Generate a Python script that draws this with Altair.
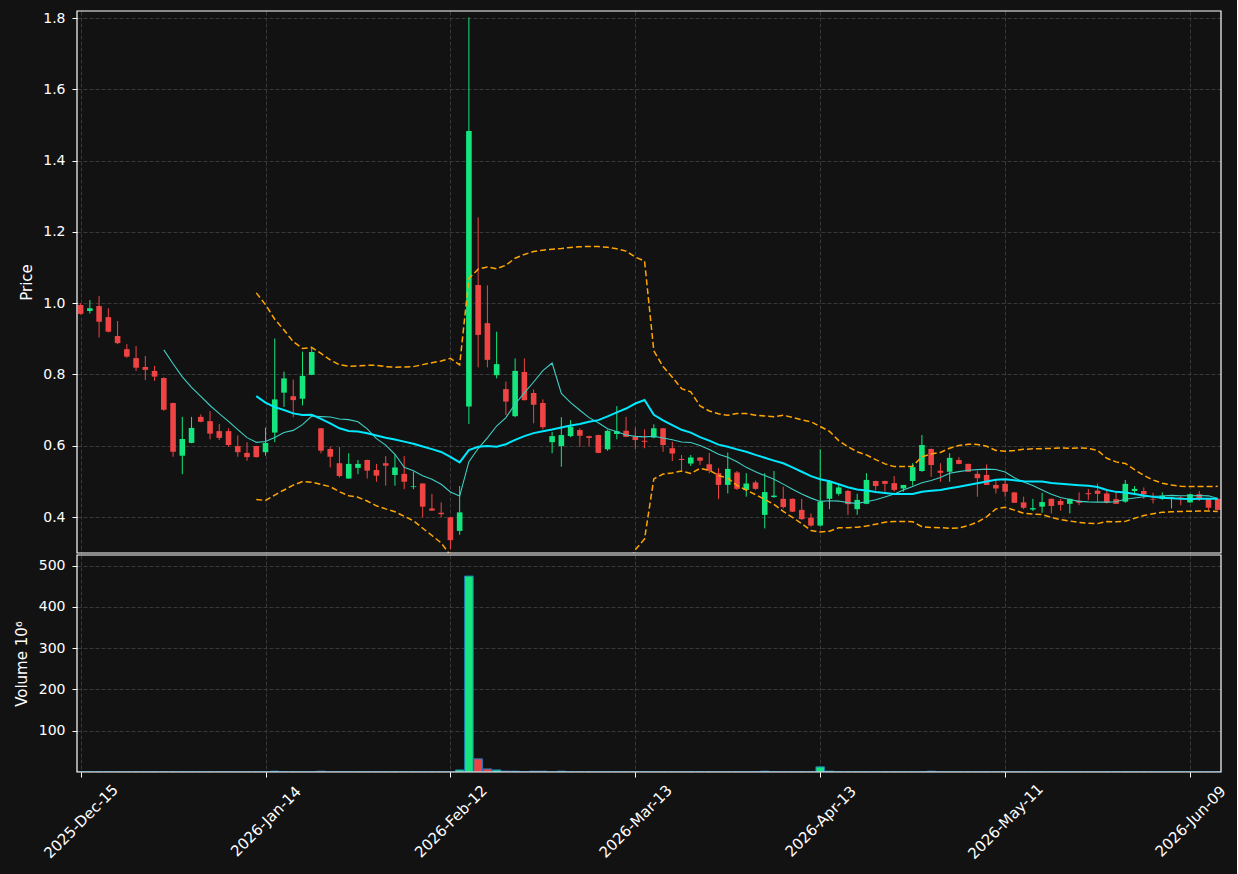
import json
import altair as alt
import pandas as pd

# ---------------- data ----------------
OPEN = [0.995, 0.978, 0.992, 0.961, 0.908, 0.871, 0.846, 0.821, 0.810, 0.790,
        0.720, 0.572, 0.608, 0.681, 0.669, 0.641, 0.641, 0.599, 0.580, 0.599,
        0.582, 0.637, 0.749, 0.739, 0.732, 0.799, 0.649, 0.591, 0.551, 0.508,
        0.538, 0.560, 0.532, 0.551, 0.518, 0.521, 0.484, 0.494, 0.424, 0.412,
        0.399, 0.361, 0.710, 1.051, 0.944, 0.798, 0.759, 0.683, 0.807, 0.748,
        0.720, 0.610, 0.599, 0.627, 0.644, 0.627, 0.630, 0.590, 0.633, 0.642,
        0.625, 0.614, 0.623, 0.649, 0.593, 0.563, 0.550, 0.567, 0.548, 0.523,
        0.490, 0.525, 0.476, 0.497, 0.406, 0.456, 0.451, 0.451, 0.420, 0.398,
        0.376, 0.451, 0.465, 0.473, 0.422, 0.437, 0.501, 0.501, 0.495, 0.480,
        0.501, 0.529, 0.591, 0.530, 0.527, 0.560, 0.549, 0.521, 0.518, 0.490,
        0.493, 0.469, 0.441, 0.421, 0.429, 0.451, 0.445, 0.437, 0.446, 0.467,
        0.474, 0.466, 0.450, 0.443, 0.473, 0.473, 0.451, 0.451, 0.454, 0.455,
        0.441, 0.464, 0.451, 0.451]
HIGH = [1.000, 1.009, 1.020, 0.986, 0.950, 0.885, 0.880, 0.852, 0.824, 0.792,
        0.721, 0.681, 0.681, 0.688, 0.697, 0.661, 0.649, 0.629, 0.610, 0.600,
        0.651, 0.901, 0.808, 0.786, 0.864, 0.878, 0.650, 0.597, 0.596, 0.579,
        0.560, 0.561, 0.549, 0.571, 0.576, 0.571, 0.527, 0.495, 0.465, 0.441,
        0.400, 0.487, 1.802, 1.241, 1.050, 0.920, 0.780, 0.845, 0.845, 0.758,
        0.730, 0.639, 0.680, 0.672, 0.649, 0.628, 0.631, 0.645, 0.711, 0.681,
        0.651, 0.646, 0.660, 0.650, 0.611, 0.574, 0.574, 0.568, 0.580, 0.537,
        0.581, 0.529, 0.523, 0.502, 0.523, 0.529, 0.485, 0.452, 0.451, 0.410,
        0.590, 0.504, 0.490, 0.476, 0.465, 0.523, 0.502, 0.502, 0.515, 0.490,
        0.551, 0.630, 0.592, 0.551, 0.579, 0.568, 0.550, 0.529, 0.548, 0.504,
        0.504, 0.470, 0.457, 0.451, 0.468, 0.452, 0.451, 0.452, 0.469, 0.479,
        0.494, 0.476, 0.471, 0.504, 0.487, 0.483, 0.468, 0.469, 0.456, 0.459,
        0.465, 0.473, 0.452, 0.452]
LOW = [0.968, 0.971, 0.904, 0.918, 0.885, 0.847, 0.810, 0.784, 0.782, 0.698,
       0.569, 0.520, 0.607, 0.666, 0.618, 0.616, 0.597, 0.569, 0.558, 0.567,
       0.572, 0.610, 0.709, 0.680, 0.713, 0.798, 0.579, 0.539, 0.511, 0.507,
       0.520, 0.508, 0.499, 0.488, 0.488, 0.478, 0.478, 0.399, 0.417, 0.399,
       0.309, 0.350, 0.661, 0.820, 0.820, 0.789, 0.686, 0.680, 0.727, 0.663,
       0.646, 0.579, 0.541, 0.624, 0.597, 0.599, 0.579, 0.586, 0.618, 0.624,
       0.590, 0.593, 0.621, 0.583, 0.557, 0.532, 0.543, 0.546, 0.523, 0.450,
       0.466, 0.476, 0.457, 0.476, 0.368, 0.454, 0.424, 0.414, 0.392, 0.373,
       0.373, 0.422, 0.460, 0.406, 0.406, 0.436, 0.474, 0.471, 0.471, 0.471,
       0.488, 0.527, 0.513, 0.499, 0.499, 0.548, 0.527, 0.457, 0.490, 0.466,
       0.457, 0.440, 0.422, 0.417, 0.412, 0.410, 0.418, 0.410, 0.433, 0.448,
       0.443, 0.438, 0.437, 0.440, 0.462, 0.451, 0.438, 0.448, 0.424, 0.433,
       0.440, 0.445, 0.420, 0.419]
CLOSE = [0.970, 0.986, 0.948, 0.920, 0.888, 0.850, 0.819, 0.813, 0.794, 0.701,
         0.583, 0.619, 0.650, 0.667, 0.634, 0.622, 0.602, 0.582, 0.568, 0.568,
         0.608, 0.730, 0.789, 0.728, 0.796, 0.863, 0.586, 0.569, 0.515, 0.549,
         0.549, 0.530, 0.516, 0.544, 0.539, 0.499, 0.486, 0.429, 0.418, 0.408,
         0.335, 0.413, 1.483, 0.911, 0.841, 0.829, 0.724, 0.810, 0.728, 0.715,
         0.652, 0.627, 0.630, 0.653, 0.628, 0.622, 0.580, 0.642, 0.641, 0.625,
         0.616, 0.611, 0.649, 0.602, 0.578, 0.560, 0.567, 0.558, 0.530, 0.490,
         0.535, 0.479, 0.494, 0.479, 0.470, 0.460, 0.428, 0.415, 0.394, 0.376,
         0.443, 0.499, 0.483, 0.436, 0.448, 0.504, 0.487, 0.493, 0.476, 0.490,
         0.540, 0.602, 0.546, 0.524, 0.566, 0.549, 0.527, 0.509, 0.490, 0.480,
         0.471, 0.440, 0.426, 0.425, 0.442, 0.431, 0.434, 0.451, 0.440, 0.464,
         0.465, 0.440, 0.437, 0.493, 0.479, 0.464, 0.449, 0.460, 0.456, 0.453,
         0.464, 0.450, 0.426, 0.420]
# volume in millions
VOLUME = [0.3, 0.3, 0.3, 0.3, 0.3, 0.3, 0.3, 0.3, 0.3, 0.3,
          0.3, 0.3, 0.3, 0.3, 0.3, 0.3, 0.3, 0.3, 0.3, 0.3,
          0.3, 2.0, 0.3, 0.3, 0.3, 0.3, 2.0, 0.3, 0.3, 0.3,
          0.3, 0.3, 0.3, 0.3, 0.3, 0.3, 0.3, 0.3, 0.3, 0.3,
          0.3, 5.0, 475.0, 32.0, 7.5, 5.0, 2.2, 2.0, 0.3, 2.0,
          2.0, 0.3, 2.0, 0.3, 0.3, 0.3, 0.3, 0.3, 0.3, 0.3,
          0.3, 0.3, 0.3, 0.3, 0.3, 0.3, 0.3, 0.3, 0.3, 0.3,
          0.3, 0.3, 0.3, 0.3, 2.0, 0.3, 0.3, 0.3, 0.3, 0.3,
          12.5, 2.0, 0.3, 0.3, 0.3, 0.3, 0.3, 0.3, 0.3, 0.3,
          0.3, 0.3, 2.0, 0.3, 0.3, 0.3, 0.3, 0.3, 0.3, 0.3,
          0.3, 0.3, 0.3, 0.3, 0.3, 0.3, 0.3, 0.3, 0.3, 0.3,
          0.3, 0.3, 0.3, 0.3, 0.3, 0.3, 0.3, 0.3, 0.3, 0.3,
          0.3, 0.3, 0.3, 0.3]

TICK_POS = [0, 20, 40, 60, 80, 100, 120]
TICK_LABELS = ["2025-Dec-15", "2026-Jan-14", "2026-Feb-12", "2026-Mar-13",
               "2026-Apr-13", "2026-May-11", "2026-Jun-09"]
PRICE_TICKS = [0.4, 0.6, 0.8, 1.0, 1.2, 1.4, 1.6, 1.8]
VOL_TICKS = [100, 200, 300, 400, 500]

# ---------------- styling ----------------
BG = "#121212"
UP = "#14e67d"
DOWN = "#ef4444"
EDGE = "#1f77b4"
FONT = "DejaVu Sans"
W, H1, H2 = 1144, 542, 217
XDOM = [-0.39, 123.35]
PDOM = [0.299, 1.82]
VDOM = [0, 526]

n = len(CLOSE)
df = pd.DataFrame({"idx": list(range(n)), "open": OPEN, "high": HIGH,
                   "low": LOW, "close": CLOSE, "volume": VOLUME})
df["dir"] = ["up" if c >= o else "down" for o, c in zip(OPEN, CLOSE)]

xscale = alt.Scale(domain=XDOM, nice=False, zero=False, padding=0)
pscale = alt.Scale(domain=PDOM, nice=False, zero=False, padding=0)
vscale = alt.Scale(domain=VDOM, nice=False, zero=False, padding=0)
color = alt.Color("dir:N", scale=alt.Scale(domain=["up", "down"], range=[UP, DOWN]), legend=None)

x_top = alt.X("idx:Q", scale=xscale,
              axis=alt.Axis(values=TICK_POS, labels=False, ticks=False, domain=False,
                            grid=True, title=None))
label_expr = json.dumps(TICK_LABELS) + "[round(datum.value / 20)]"
x_bot = alt.X("idx:Q", scale=xscale,
              axis=alt.Axis(values=TICK_POS, labelExpr=label_expr, labelAngle=315,
                            labelAlign="center", labelBaseline="middle", labelPadding=44,
                            labelFontSize=15,
                            tickSize=5, domain=False, grid=True, title=None,
                            labelOverlap=False, labelFlush=False, labelBound=False))

base = alt.Chart(df)

wick = base.mark_rule(strokeWidth=1, clip=True).encode(
    x=x_top,
    y=alt.Y("low:Q", scale=pscale,
            axis=alt.Axis(values=PRICE_TICKS, format=".1f", title="Price", tickSize=5,
                          labelPadding=7, titlePadding=8, domain=False, grid=True,
                          labelFlush=False)),
    y2="high:Q",
    color=color,
)
body = base.mark_bar(size=5.6, clip=True).encode(
    x=x_top, y=alt.Y("open:Q", scale=pscale), y2="close:Q", color=color)

ma10 = base.transform_window(
    ma10="mean(close)", n10="count(close)", frame=[-9, 0], sort=[alt.SortField("idx")]
).transform_filter("datum.n10 >= 10").mark_line(
    color="#3fcfc4", strokeWidth=1.1, clip=True
).encode(x=x_top, y=alt.Y("ma10:Q", scale=pscale))

bb = base.transform_window(
    ma20="mean(close)", sd20="stdevp(close)", n20="count(close)",
    frame=[-19, 0], sort=[alt.SortField("idx")]
).transform_filter("datum.n20 >= 20").transform_calculate(
    upper="datum.ma20 + 2 * datum.sd20", lower="datum.ma20 - 2 * datum.sd20")

ma20 = bb.mark_line(color="#00e8ff", strokeWidth=2, clip=True).encode(
    x=x_top, y=alt.Y("ma20:Q", scale=pscale))
upper = bb.mark_line(color="#ffa500", strokeWidth=1.5, strokeDash=[6, 3], clip=True).encode(
    x=x_top, y=alt.Y("upper:Q", scale=pscale))
lower = bb.mark_line(color="#ffa500", strokeWidth=1.5, strokeDash=[6, 3], clip=True).encode(
    x=x_top, y=alt.Y("lower:Q", scale=pscale))

frame_data = alt.InlineData(values=[{"k": 0}])
frame_top = alt.Chart(frame_data).mark_rect(fillOpacity=0, stroke="white", strokeWidth=1.2).encode(
    x=alt.value(0), x2=alt.value(W), y=alt.value(0), y2=alt.value(H1))
frame_bot = alt.Chart(frame_data).mark_rect(fillOpacity=0, stroke="white", strokeWidth=1.2).encode(
    x=alt.value(0), x2=alt.value(W), y=alt.value(0), y2=alt.value(H2))

top = alt.layer(wick, body, ma10, ma20, upper, lower, frame_top).properties(width=W, height=H1)

vol = base.mark_bar(size=8.6, stroke=EDGE, strokeWidth=1, clip=True).encode(
    x=x_bot,
    y=alt.Y("volume:Q", scale=vscale,
            axis=alt.Axis(values=VOL_TICKS, title="Volume  10⁶", tickSize=5,
                          labelPadding=7, titlePadding=9, domain=False, grid=True,
                          labelFlush=False)),
    y2=alt.datum(0),
    color=color,
)
bottom = alt.layer(vol, frame_bot).properties(width=W, height=H2)

chart = alt.vconcat(top, bottom, spacing=0).properties(
    background=BG,
    padding={"left": 14, "top": 10, "right": 8, "bottom": 14},
).configure_view(stroke=None, fill=BG).configure_axis(
    labelColor="white", titleColor="white", labelFont=FONT, titleFont=FONT,
    labelFontSize=14, titleFontSize=15, titleFontWeight="normal",
    gridColor="#3d3d3d", gridDash=[4, 2], gridWidth=0.9,
    tickColor="white", tickWidth=1,
)

chart.save("out.html", embed_options={"renderer": "svg", "actions": False})
